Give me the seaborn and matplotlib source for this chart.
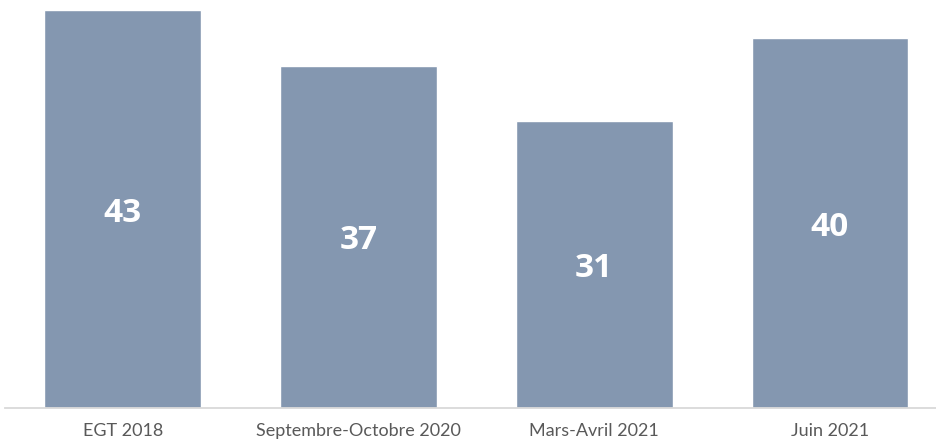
import matplotlib
matplotlib.use("Agg")
import matplotlib.pyplot as plt
import seaborn as sns
import pandas as pd

categories = ["EGT 2018", "Septembre-Octobre 2020", "Mars-Avril 2021", "Juin 2021"]
values = [43, 37, 31, 40]

df = pd.DataFrame({"periode": categories, "valeur": values})

sns.set_theme(style="white")
plt.rcParams["font.family"] = ["Lato", "DejaVu Sans"]

fig = plt.figure(figsize=(9.36, 4.45), dpi=100)
ax = fig.add_axes([5 / 936, 37 / 445, 931 / 936, 408 / 445])

sns.barplot(data=df, x="periode", y="valeur", color="#8497B0", saturation=1,
            width=0.665, ax=ax)

ax.set_xlim(-0.5, -0.5 + 931 / 235.7)
ax.set_ylim(0, 44.08)
ax.set_xlabel("")
ax.set_ylabel("")
ax.set_yticks([])
for s in ["top", "left", "right"]:
    ax.spines[s].set_visible(False)
ax.spines["bottom"].set_color("#D9D9D9")
ax.spines["bottom"].set_linewidth(1.3)
ax.tick_params(axis="x", length=0, pad=11, labelsize=13, labelcolor="#595959")

for c in ax.containers:
    ax.bar_label(c, label_type="center", color="white", fontsize=24,
                 fontweight="bold", family=["Open Sans", "DejaVu Sans"],
                 padding=-3)

fig.savefig("out.png", dpi=100)
